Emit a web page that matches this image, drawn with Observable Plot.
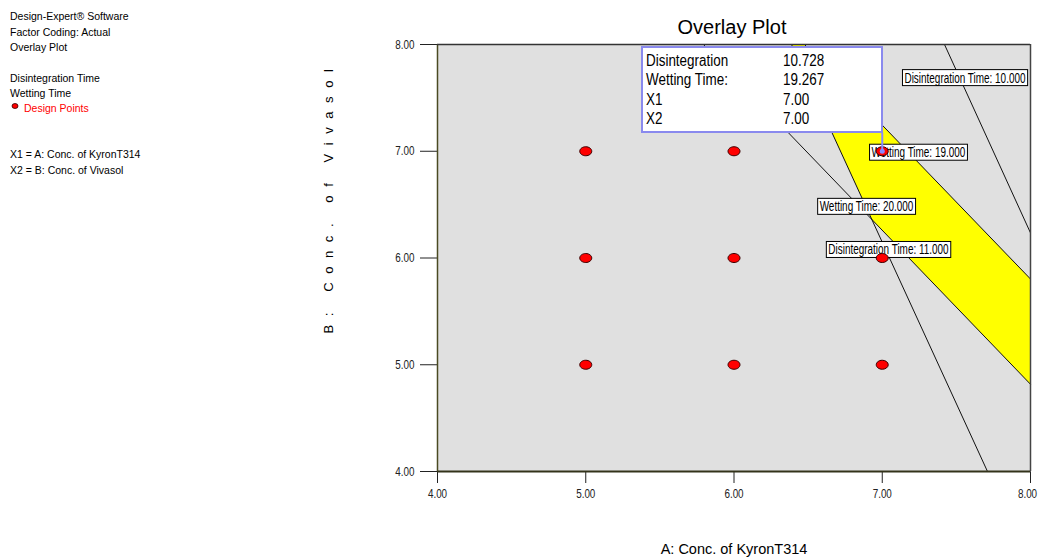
<!DOCTYPE html>
<html>
<head>
<meta charset="utf-8">
<script src="https://cdn.jsdelivr.net/npm/d3@7"></script>
<script src="https://cdn.jsdelivr.net/npm/@observablehq/plot@0.6"></script>
<style>
  html, body { margin: 0; padding: 0; background: #fff; }
  #chart { position: relative; width: 1038px; height: 559px; overflow: hidden; }
</style>
</head>
<body>
<div id="chart"></div>
<script>
// ---- data ----
const xTicks = [4, 5, 6, 7, 8];
const yTicks = [4, 5, 6, 7, 8];

// design points (A, B)
const designX = [5, 6, 7, 5, 6, 7, 5, 6, 7];
const designY = [7, 7, 7, 6, 6, 6, 5, 5, 5];

// contour lines (end points where they meet the frame) and label centres
const contourNames = ["Disintegration Time: 10.000", "Wetting Time: 19.000", "Wetting Time: 20.000", "Disintegration Time: 11.000"];
const contourX1 = [7.42, 6.476, 5.794, 6.388];
const contourY1 = [8, 8, 8, 8];
const contourX2 = [8, 8, 8, 7.71];
const contourY2 = [6.235, 5.803, 4.817, 4];
const labelX = [7.558, 7.244, 6.894, 7.042];
const labelY = [7.685, 6.986, 6.479, 6.075];

// feasible (yellow) region outline
const regionX = [6.388, 6.476, 8, 8, 6.929];
const regionY = [8, 8, 5.803, 4.817, 6.362];

// flagged point
const flagX = 7, flagY = 7;
const flagNames = ["Disintegration", "Wetting Time:", "X1", "X2"];
const flagValues = ["10.728", "19.267", "7.00", "7.00"];

// side notes
const notesTop = ["Design-Expert\u00AE Software", "Factor Coding: Actual", "Overlay Plot"];
const notesResp = ["Disintegration Time", "Wetting Time"];
const notesPoints = "Design Points";
const notesFactors = ["X1 = A: Conc. of KyronT314", "X2 = B: Conc. of Vivasol"];
const title = "Overlay Plot";
const xLabel = "A: Conc. of KyronT314";
const yLabel = "B: Conc. of Vivasol";

// ---- tables built from arrays ----
const points = designX.map((x, i) => ({x, y: designY[i]}));
const contours = contourNames.map((name, i) => ({
  name, x1: contourX1[i], y1: contourY1[i], x2: contourX2[i], y2: contourY2[i], lx: labelX[i], ly: labelY[i]
}));
const region = regionX.map((x, i) => ({x, y: regionY[i]}));

const SANS = "'Liberation Sans', Arial, sans-serif";

// condense a text element horizontally (the reference uses a narrow face)
function condense(t, factor) {
  const w = t.getComputedTextLength();
  t.setAttribute("textLength", (w * factor).toFixed(2));
  t.setAttribute("lengthAdjust", "spacingAndGlyphs");
}

// ellipse symbol for design points
const ellipse = {
  draw(ctx) {
    const rx = 6, ry = 4.5, k = 0.5523;
    ctx.moveTo(rx, 0);
    ctx.bezierCurveTo(rx, ry * k, rx * k, ry, 0, ry);
    ctx.bezierCurveTo(-rx * k, ry, -rx, ry * k, -rx, 0);
    ctx.bezierCurveTo(-rx, -ry * k, -rx * k, -ry, 0, -ry);
    ctx.bezierCurveTo(rx * k, -ry, rx, -ry * k, rx, 0);
    ctx.closePath();
  }
};

const plot = Plot.plot({
  width: 1038,
  height: 559,
  marginLeft: 437,
  marginRight: 8,
  marginTop: 44,
  marginBottom: 88,
  style: {fontFamily: SANS, fontSize: "13px", color: "#222", background: "#fff", overflow: "visible"},
  x: {domain: [4, 8], ticks: xTicks, tickFormat: d => d.toFixed(2), tickSize: 12, tickPadding: 5, label: null},
  y: {domain: [4, 8], ticks: yTicks, tickFormat: d => d.toFixed(2), tickSize: 17, tickPadding: 6, label: null},
  marks: [
    Plot.frame({fill: "#e0e0e0", stroke: "none"}),
    Plot.line(region, {x: "x", y: "y", fill: "#ffff00", stroke: "none"}),
    Plot.link(contours, {x1: "x1", y1: "y1", x2: "x2", y2: "y2", stroke: "#111", strokeWidth: 1}),
    Plot.text(contours, {x: "lx", y: "ly", text: "name", className: "clabel", fill: "#000",
      fontFamily: SANS, fontSize: 14, textAnchor: "middle"}),
    Plot.dot(points, {x: "x", y: "y", symbol: ellipse, fill: "#ff0000", stroke: "#3a0000", strokeWidth: 1}),
    Plot.dot([{x: flagX, y: flagY}], {x: "x", y: "y", r: 2.5, fill: "#8a8aff", stroke: "none"}),
    Plot.ruleY([4], {stroke: "#33331a", strokeWidth: 2}),
    Plot.ruleX([4], {stroke: "#4a4a22", strokeWidth: 1.5}),
    Plot.ruleY([8], {stroke: "#333", strokeWidth: 1.5}),
    Plot.ruleX([8], {stroke: "#444", strokeWidth: 1.5}),
    Plot.ruleX([flagX], {y1: flagY, y2: 7.17, stroke: "#8a8aff", strokeWidth: 2})
  ]
});

document.getElementById("chart").appendChild(plot);
const svg = d3.select(plot);

// condense axis tick labels
const tickTexts = Array.from(plot.querySelectorAll("g[aria-label$='tick label'] text"));
tickTexts.forEach(t => condense(t, 0.76));
// last x tick label sits at the right edge; nudge it inside
const xTickTexts = Array.from(plot.querySelectorAll("g[aria-label='x-axis tick label'] text"));
if (xTickTexts.length) {
  const last = xTickTexts[xTickTexts.length - 1];
  last.setAttribute("dx", "-3");
}

// white boxes behind contour labels
plot.querySelectorAll("g.clabel text").forEach(t => {
  condense(t, 0.71);
  const b = t.getBBox();
  const r = document.createElementNS("http://www.w3.org/2000/svg", "rect");
  r.setAttribute("x", b.x - 2);
  r.setAttribute("y", b.y);
  r.setAttribute("width", b.width + 4);
  r.setAttribute("height", b.height);
  r.setAttribute("fill", "#fff");
  r.setAttribute("stroke", "#000");
  r.setAttribute("stroke-width", 1);
  const tr = t.getAttribute("transform");
  if (tr) r.setAttribute("transform", tr);
  t.parentNode.insertBefore(r, t);
});

// flag box
const fx = 642, fy = 47, fw = 240, fh = 85;
const flag = svg.append("g").attr("text-anchor", "start");
flag.append("rect").attr("x", fx).attr("y", fy).attr("width", fw).attr("height", fh)
  .attr("fill", "#fff").attr("stroke", "#8a8aee").attr("stroke-width", 2);
flagNames.forEach((n, i) => {
  const a = flag.append("text").attr("x", fx + 4).attr("y", fy + 19 + i * 19.3)
    .attr("font-family", SANS).attr("font-size", 16).attr("fill", "#000").text(n);
  condense(a.node(), 0.84);
  const b = flag.append("text").attr("x", fx + 141).attr("y", fy + 19 + i * 19.3)
    .attr("font-family", SANS).attr("font-size", 16).attr("fill", "#000").text(flagValues[i]);
  condense(b.node(), 0.84);
});

// title and axis titles
svg.append("text").attr("x", 732).attr("y", 34).attr("text-anchor", "middle")
  .attr("font-family", SANS).attr("font-size", 20).attr("fill", "#000").text(title);
svg.append("text").attr("x", 734).attr("y", 554).attr("text-anchor", "middle")
  .attr("font-family", SANS).attr("font-size", 14.5).attr("fill", "#000").text(xLabel);
svg.append("text").attr("transform", "translate(333,197) rotate(-90)").attr("text-anchor", "middle")
  .attr("font-family", SANS).attr("font-size", 13).attr("letter-spacing", 8.6).attr("fill", "#000").text(yLabel);

// side notes
const notes = svg.append("g").attr("font-family", SANS).attr("font-size", 10.5).attr("fill", "#000").attr("text-anchor", "start");
notesTop.forEach((t, i) => notes.append("text").attr("x", 10).attr("y", 20 + i * 15.5).text(t));
notesResp.forEach((t, i) => notes.append("text").attr("x", 10).attr("y", 81.5 + i * 15.5).text(t));
notes.append("ellipse").attr("cx", 15).attr("cy", 106).attr("rx", 3).attr("ry", 2.5)
  .attr("fill", "#ff0000").attr("stroke", "#300").attr("stroke-width", 0.8);
notes.append("text").attr("x", 24).attr("y", 112).attr("fill", "#ff0000").text(notesPoints);
notesFactors.forEach((t, i) => notes.append("text").attr("x", 10).attr("y", 158 + i * 15.5).text(t));
</script>
</body>
</html>
